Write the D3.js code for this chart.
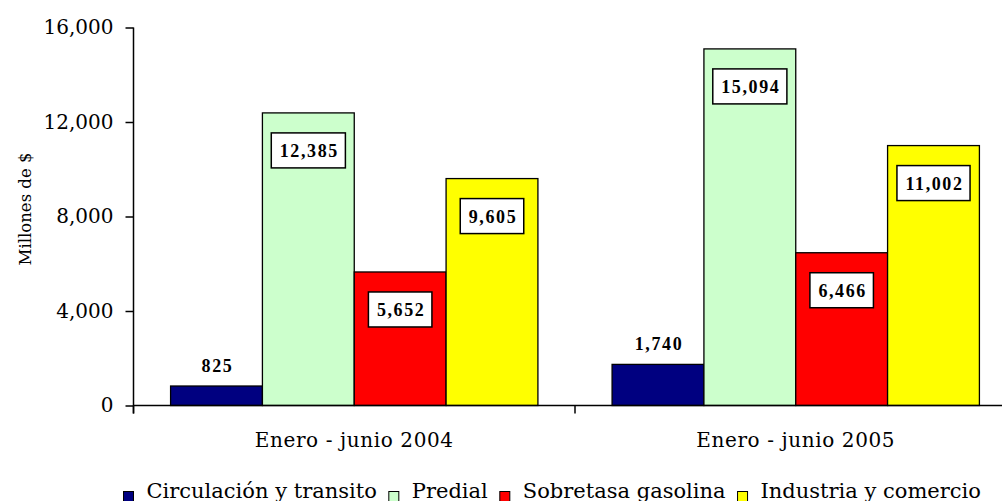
<!DOCTYPE html>
<html><head><meta charset="utf-8">
<script src="https://cdn.jsdelivr.net/npm/d3@7/dist/d3.min.js"></script>
<style>body{margin:0;background:#fff;overflow:hidden} svg{display:block}</style>
</head><body>
<svg id="c" width="1002" height="501"></svg>
<script>
const categories = ["Enero - junio 2004", "Enero - junio 2005"];
const seriesNames = ["Circulación y transito", "Predial", "Sobretasa gasolina", "Industria y comercio"];
const circulacion = [825, 1740];
const predial = [12385, 15094];
const sobretasa = [5652, 6466];
const industria = [9605, 11002];
const yTicks = [0, 4000, 8000, 12000, 16000];
const yTitle = "Millones de $";
const colors = ["#000080", "#CCFFCC", "#FF0000", "#FFFF00"];
const boxedLabel = [false, true, true, true];

(function () {
const seriesValues = [circulacion, predial, sobretasa, industria];
const svg = d3.select("#c");
const pL = 133.5, pR = 1016.5, pT = 27.5, pB = 405.5;
const serif = "'DejaVu Serif', serif";

const x0 = d3.scaleBand().domain(categories).range([pL, pR]).paddingInner(0.168).paddingOuter(0.084);
const x1 = d3.scaleBand().domain(seriesNames).range([0, x0.bandwidth()]);
const y = d3.scaleLinear().domain([0, 16000]).range([pB, pT]);
const fmt = d3.format(",");

const rows = [];
categories.forEach((c, ci) => seriesNames.forEach((s, si) => rows.push({c, s, si, v: seriesValues[si][ci]})));

// bars
svg.append("g").selectAll("rect").data(rows).join("rect")
  .attr("x", d => x0(d.c) + x1(d.s))
  .attr("y", d => y(d.v))
  .attr("width", x1.bandwidth())
  .attr("height", d => y(0) - y(d.v))
  .attr("fill", d => colors[d.si])
  .attr("stroke", "#000").attr("stroke-width", 1.3);

// y axis
const ya = svg.append("g").attr("transform", `translate(${pL},0)`)
  .call(d3.axisLeft(y).tickValues(yTicks).tickSize(8).tickPadding(12).tickFormat(fmt));
ya.select(".domain").remove();
ya.selectAll(".tick line").attr("stroke", "#000").attr("stroke-width", 1.5);
ya.selectAll(".tick text").attr("font-family", serif).attr("font-size", 20).attr("fill", "#000");
svg.append("line").attr("x1", pL).attr("x2", pL).attr("y1", pT).attr("y2", pB + 8)
  .attr("stroke", "#000").attr("stroke-width", 1.5);

// x axis
svg.append("line").attr("x1", pL).attr("x2", pR).attr("y1", pB).attr("y2", pB)
  .attr("stroke", "#000").attr("stroke-width", 1.5);
const bounds = categories.map((c, i) => pL + x0.step() * i).concat([pR]);
svg.append("g").selectAll("line").data(bounds).join("line")
  .attr("x1", d => d).attr("x2", d => d).attr("y1", pB).attr("y2", pB + 8)
  .attr("stroke", "#000").attr("stroke-width", 1.5);
svg.append("g").selectAll("text").data(categories).join("text")
  .attr("x", d => x0(d) + x0.bandwidth() / 2).attr("y", 447)
  .attr("text-anchor", "middle").attr("font-family", serif).attr("font-size", 20)
  .attr("letter-spacing", "0.6px").attr("fill", "#000")
  .text(d => d);

// y title
svg.append("text").attr("transform", `translate(30.5,209) rotate(-90)`)
  .attr("text-anchor", "middle").attr("font-family", serif).attr("font-size", 16.5).attr("fill", "#000")
  .text(yTitle);

// value labels
const lg = svg.append("g");
rows.forEach(d => {
  const cx = x0(d.c) + x1(d.s) + x1.bandwidth() / 2;
  const g = lg.append("g");
  const t = g.append("text").attr("font-family", "'Liberation Serif', 'Times New Roman', serif")
    .attr("font-weight", "bold").attr("font-size", 18).attr("letter-spacing", "1.6px")
    .attr("text-anchor", "middle").attr("fill", "#000").text(fmt(d.v));
  if (boxedLabel[d.si]) {
    const boxTop = y(d.v) + 20, boxH = 35;
    t.attr("x", cx + 1).attr("y", boxTop + boxH / 2 + 6.5);
    const w = t.node().getComputedTextLength() + 15;
    g.insert("rect", "text").attr("x", cx - w / 2).attr("y", boxTop).attr("width", w).attr("height", boxH)
      .attr("fill", "#fff").attr("stroke", "#000").attr("stroke-width", 1.5);
  } else {
    t.attr("x", cx + 1).attr("y", y(d.v) - 14);
  }
});

// legend
const leg = svg.append("g");
let lx = 123.5;
seriesNames.forEach((s, i) => {
  leg.append("rect").attr("x", lx).attr("y", 491.5).attr("width", 10).attr("height", 11)
    .attr("fill", colors[i]).attr("stroke", "#000").attr("stroke-width", 1);
  const t = leg.append("text").attr("x", lx + 23).attr("y", 498)
    .attr("font-family", serif).attr("font-size", 21).attr("fill", "#000").text(s);
  lx = lx + 23 + t.node().getComputedTextLength() + 12;
});
})();
</script>
</body></html>
